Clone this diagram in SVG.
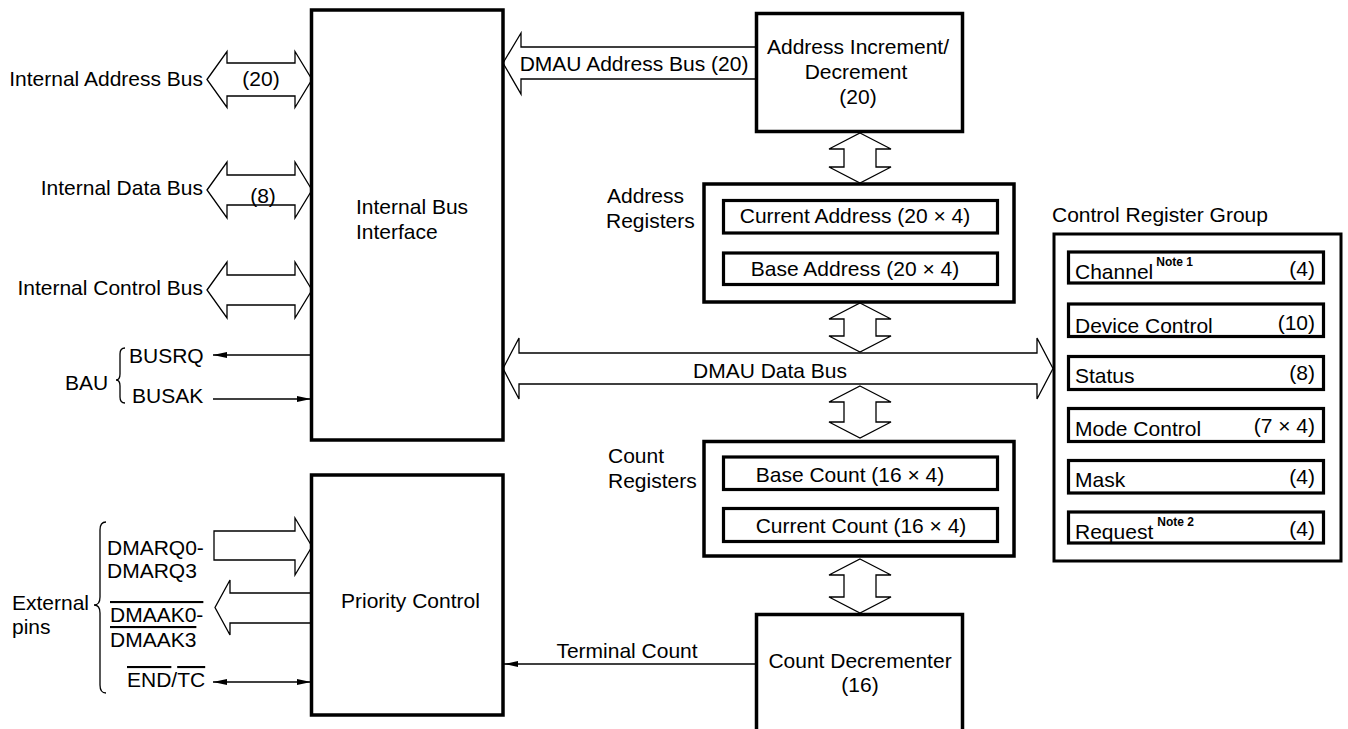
<svg xmlns="http://www.w3.org/2000/svg" width="1348" height="729" viewBox="0 0 1348 729">
<style>
text{font-family:"Liberation Sans",Arial,sans-serif;font-size:21px;fill:#000}
.m{text-anchor:middle}
.e{text-anchor:end}
.sup{font-size:12px;font-weight:bold}
.box{fill:#fff;stroke:#000;stroke-width:3.5}
.ibox{fill:#fff;stroke:#000;stroke-width:3.2}
.bus{fill:#fff;stroke:#000;stroke-width:1.3;stroke-linejoin:miter}
.ln{fill:none;stroke:#000;stroke-width:1.3}
.br{fill:none;stroke:#000;stroke-width:1.3}
</style>
<defs>
<marker id="ah" viewBox="0 0 14 6" refX="14" refY="3" markerWidth="14" markerHeight="6" orient="auto-start-reverse" markerUnits="userSpaceOnUse"><path d="M0,0 L14,3 L0,6 z" fill="#000"/></marker>
</defs>

<g id="connectors">
<polygon class="bus" points="207,79.5 227,51.5 227,63 295,63 295,51.5 312,79.5 295,107.5 295,96 227,96 227,107.5"/>
<polygon class="bus" points="207,190 227,162 227,175 295,175 295,162 312,190 295,218 295,205 227,205 227,218"/>
<polygon class="bus" points="207,290 227,262 227,275 295,275 295,262 312,290 295,318 295,305 227,305 227,318"/>
<polygon class="bus" points="503,63 521,33 521,47 756,47 756,79 521,79 521,94"/>
<polygon class="bus" points="503,368.5 519,338 519,353 1037,353 1037,338 1053,368.5 1037,399 1037,384 519,384 519,399"/>
<polygon class="bus" points="860,133 891,149 876,149 876,167 891,167 860,183 829,167 844,167 844,149 829,149"/>
<polygon class="bus" points="860,303 891,319 876,319 876,336 891,336 860,352 829,336 844,336 844,319 829,319"/>
<polygon class="bus" points="860,386 891,402 876,402 876,422 891,422 860,438 829,422 844,422 844,402 829,402"/>
<polygon class="bus" points="860,559 891,575 876,575 876,597 891,597 860,613 829,597 844,597 844,575 829,575"/>
<polygon class="bus" points="214,531 295,531 295,518 312,546.5 295,575 295,560 214,560"/>
<polygon class="bus" points="312,593 230,593 230,580 215,607.5 230,635 230,623 312,623"/>
<line class="ln" x1="311" y1="355" x2="213" y2="355" marker-end="url(#ah)"/>
<line class="ln" x1="213" y1="399" x2="311" y2="399" marker-end="url(#ah)"/>
<line class="ln" x1="756" y1="664" x2="504" y2="664" marker-end="url(#ah)"/>
<line class="ln" x1="213" y1="682" x2="311" y2="682" marker-start="url(#ah)" marker-end="url(#ah)"/>
</g>

<g id="bus-labels">
<text class="e" x="203" y="86">Internal Address Bus</text>
<text class="m" x="261" y="86">(20)</text>
<text class="e" x="203" y="195">Internal Data Bus</text>
<text class="m" x="263" y="203">(8)</text>
<text class="e" x="203" y="295">Internal Control Bus</text>
<text class="m" x="634" y="71">DMAU Address Bus (20)</text>
<text class="m" x="770" y="378">DMAU Data Bus</text>
<text class="m" x="627" y="658">Terminal Count</text>
</g>

<g id="bau">
<text x="65" y="390">BAU</text>
<path class="br" d="M125,348 Q120,348 120,354 L120,374 Q120,380 116,380 Q120,380 120,386 L120,397 Q120,403 125,403"/>
<text x="129" y="363">BUSRQ</text>
<text x="132" y="403">BUSAK</text>
</g>

<g id="external-pins">
<text x="12" y="610">External</text>
<text x="12" y="634">pins</text>
<path class="br" d="M106,522 Q100,522 100,530 L100,597 Q100,605 94,605 Q100,605 100,613 L100,685 Q100,693 106,693"/>
<text x="107" y="555">DMARQ0-</text>
<text x="107" y="578">DMARQ3</text>
<text x="110" y="622" text-decoration="overline">DMAAK0-</text>
<text x="110" y="647" text-decoration="overline">DMAAK3</text>
<text x="127" y="687"><tspan text-decoration="overline">END</tspan>/<tspan text-decoration="overline">TC</tspan></text>
</g>

<g id="internal-bus-interface">
<rect class="box" x="311.5" y="10" width="191.5" height="430"/>
<text x="356" y="214">Internal Bus</text>
<text x="356" y="239">Interface</text>
</g>

<g id="priority-control">
<rect class="box" x="311.5" y="475" width="191.5" height="240"/>
<text x="341" y="608">Priority Control</text>
</g>

<g id="address-incdec">
<rect class="box" x="756.5" y="13.5" width="206" height="118"/>
<text class="m" x="858" y="54">Address Increment/</text>
<text class="m" x="856" y="79">Decrement</text>
<text class="m" x="858" y="104">(20)</text>
</g>

<g id="address-registers">
<text x="607" y="203">Address</text>
<text x="606" y="228">Registers</text>
<rect class="box" x="704" y="184" width="310" height="118"/>
<rect class="ibox" x="723.5" y="200.5" width="274" height="32.5"/>
<text class="m" x="855" y="223">Current Address (20 × 4)</text>
<rect class="ibox" x="723.5" y="253" width="274" height="31.5"/>
<text class="m" x="855" y="276">Base Address (20 × 4)</text>
</g>

<g id="count-registers">
<text x="608" y="463">Count</text>
<text x="608" y="488">Registers</text>
<rect class="box" x="704" y="441.5" width="310" height="114.5"/>
<rect class="ibox" x="723.5" y="457" width="274" height="32.5"/>
<text class="m" x="850" y="482">Base Count (16 × 4)</text>
<rect class="ibox" x="723.5" y="508.5" width="274" height="33"/>
<text class="m" x="861" y="533">Current Count (16 × 4)</text>
</g>

<g id="count-decrementer">
<rect class="box" x="756.5" y="614.5" width="206" height="130"/>
<text class="m" x="860" y="668">Count Decrementer</text>
<text class="m" x="860" y="692">(16)</text>
</g>

<g id="control-register-group">
<text x="1052" y="222">Control Register Group</text>
<rect class="box" x="1054" y="234" width="287" height="327" style="stroke-width:3"/>
<rect class="ibox" x="1068.5" y="252" width="255" height="31"/>
<text x="1075" y="279">Channel<tspan class="sup" dx="3" dy="-13">Note 1</tspan></text>
<text class="e" x="1315" y="276">(4)</text>
<rect class="ibox" x="1068.5" y="304" width="255" height="32.5"/>
<text x="1075" y="333">Device Control</text>
<text class="e" x="1315" y="330">(10)</text>
<rect class="ibox" x="1068.5" y="356.5" width="255" height="33"/>
<text x="1075" y="383">Status</text>
<text class="e" x="1315" y="380">(8)</text>
<rect class="ibox" x="1068.5" y="408.5" width="255" height="33"/>
<text x="1075" y="436">Mode Control</text>
<text class="e" x="1315" y="433">(7 × 4)</text>
<rect class="ibox" x="1068.5" y="460.5" width="255" height="32.5"/>
<text x="1075" y="487">Mask</text>
<text class="e" x="1315" y="484">(4)</text>
<rect class="ibox" x="1068.5" y="512" width="255" height="31"/>
<text x="1075" y="539">Request<tspan class="sup" dx="4" dy="-13">Note 2</tspan></text>
<text class="e" x="1315" y="536">(4)</text>
</g>
</svg>
